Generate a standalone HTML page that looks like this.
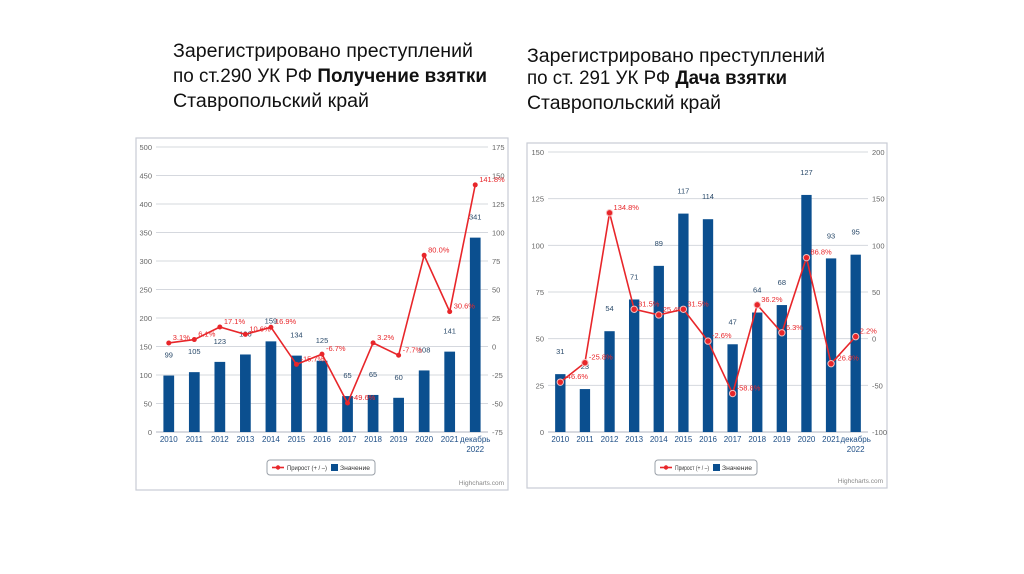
<!DOCTYPE html>
<html><head><meta charset="utf-8"><style>
html,body{margin:0;padding:0;background:#fff;width:1024px;height:574px;overflow:hidden}
svg{display:block;font-family:"Liberation Sans","DejaVu Sans",sans-serif}
</style></head><body>
<svg id="s" width="1024" height="574" xmlns="http://www.w3.org/2000/svg">
<g font-size="19" fill="#111">
<text x="173" y="57" textLength="300" lengthAdjust="spacingAndGlyphs">Зарегистрировано преступлений</text>
<text x="173" y="82" textLength="314" lengthAdjust="spacingAndGlyphs">по ст.290 УК РФ <tspan font-weight="bold">Получение взятки</tspan></text>
<text x="173" y="107" textLength="196" lengthAdjust="spacingAndGlyphs">Ставропольский край</text>
</g>
<g font-size="19" fill="#111">
<text x="527" y="62" textLength="298" lengthAdjust="spacingAndGlyphs">Зарегистрировано преступлений</text>
<text x="527" y="84" textLength="260" lengthAdjust="spacingAndGlyphs">по ст. 291 УК РФ <tspan font-weight="bold">Дача взятки</tspan></text>
<text x="527" y="109" textLength="194" lengthAdjust="spacingAndGlyphs">Ставропольский край</text>
</g>
</svg>
<script>
const categories = ["2010","2011","2012","2013","2014","2015","2016","2017","2018","2019","2020","2021","декабрь"];
const leftValues = [99,105,123,136,159,134,125,63,65,60,108,141,341];
const leftValueLabels = ["99","105","123","136","159","134","125","65","65","60","108","141","341"];
const leftGrowth = [3.1,6.1,17.1,10.6,16.9,-15.7,-6.7,-49.6,3.2,-7.7,80.0,30.6,141.8];
const leftLeftTicks = [0,50,100,150,200,250,300,350,400,450,500];
const leftRightTicks = [-75,-50,-25,0,25,50,75,100,125,150,175];
const rightValues = [31,23,54,71,89,117,114,47,64,68,127,93,95];
const rightGrowth = [-46.6,-25.8,134.8,31.5,25.4,31.5,-2.6,-58.8,36.2,6.3,86.8,-26.8,2.2];
const rightLeftTicks = [0,25,50,75,100,125,150];
const rightRightTicks = [-100,-50,0,50,100,150,200];

const NS="http://www.w3.org/2000/svg";
const svg=document.getElementById('s');
function mk(tag,attrs,parent,txt){const e=document.createElementNS(NS,tag);for(const k in attrs)e.setAttribute(k,attrs[k]);if(txt!==undefined)e.textContent=txt;parent.appendChild(e);return e;}

function chart(cfg){
  const g=mk('g',{},svg);
  
  
  const fr=mk('rect',{x:cfg.fx,y:cfg.fy,width:cfg.fw,height:cfg.fh,fill:'#fff',stroke:'#c8ccd4','stroke-width':1.2},g);
  
  
  const L=cfg.x0,R=cfg.x1,T=cfg.yTop,B=cfg.yBot;
  const yL=v=>B-(v-cfg.lMin)/(cfg.lMax-cfg.lMin)*(B-T);
  const yR=v=>B-(v-cfg.rMin)/(cfg.rMax-cfg.rMin)*(B-T);
  const bw=(R-L)/categories.length;
  const xC=i=>L+bw*(i+0.5);
  cfg.lTicks.forEach(t=>{
    const y=yL(t);
    const gl=mk('line',{x1:L,x2:R,y1:y,y2:y,stroke:'#d5d8de','stroke-width':1},g);
    
    
    const tx=mk('text',{x:L-4,y:y+3,'font-size':7.5,fill:'#666','text-anchor':'end'},g,String(t));
    
    
  });
  cfg.rTicks.forEach(t=>{
    const tx=mk('text',{x:R+4,y:yR(t)+3,'font-size':7.5,fill:'#666'},g,String(t));
    
    
  });
  mk('line',{x1:L,x2:R,y1:B,y2:B,stroke:'#b0b6c0'},g);
  cfg.values.forEach((v,i)=>{
    const w=bw*0.42;
    const b=mk('rect',{x:xC(i)-w/2,y:yL(v),width:w,height:B-yL(v),fill:'#0b4f8f'},g);
    
    
    const lb=mk('text',{x:xC(i),y:yL(v)-cfg.labOff,'font-size':7.5,fill:'#2a4a6a','text-anchor':'middle'},g,cfg.valLabels?cfg.valLabels[i]:String(v));
    
    
    const cl=mk('text',{x:xC(i),y:B+10,'font-size':8,fill:'#1f4f86','text-anchor':'middle'},g,categories[i]);
    
    
  });
  const c2=mk('text',{x:xC(12),y:B+20,'font-size':8,fill:'#1f4f86','text-anchor':'middle'},g,'2022');
  
  
  const pts=cfg.growth.map((v,i)=>xC(i)+','+yR(v)).join(' ');
  const pl=mk('polyline',{points:pts,fill:'none',stroke:'#e8262a','stroke-width':1.6},g);
  
  
  cfg.growth.forEach((v,i)=>{
    const p=mk('circle',{cx:xC(i),cy:yR(v),r:cfg.ring?3.2:2.5,fill:'#e8262a',stroke:cfg.ring?'#f5c0c0':'none','stroke-width':1},g);
    
    
    const t=mk('text',{x:xC(i)+4,y:yR(v)-3,'font-size':7.5,fill:'#e8262a'},g,v.toFixed(1)+'%');
    
    
  });
  const lg=mk('g',{},g);
  
  
  mk('rect',{x:cfg.lgx,y:cfg.lgy,width:cfg.lgw,height:15,rx:3,fill:'#fff',stroke:'#9aa0a8'},lg);
  mk('line',{x1:cfg.lgx+5,x2:cfg.lgx+17,y1:cfg.lgy+7.5,y2:cfg.lgy+7.5,stroke:'#e8262a','stroke-width':1.6},lg);
  mk('circle',{cx:cfg.lgx+11,cy:cfg.lgy+7.5,r:2.2,fill:'#e8262a'},lg);
  const t1=mk('text',{x:cfg.lgx+20,y:cfg.lgy+10,'font-size':6.3,fill:'#333',textLength:cfg.lgw-68,lengthAdjust:'spacingAndGlyphs'},lg,'Прирост (+ / –)');
  
  
  mk('rect',{x:cfg.lgx+cfg.lgw-44,y:cfg.lgy+4,width:7,height:7,fill:'#0b4f8f'},lg);
  const t2=mk('text',{x:cfg.lgx+cfg.lgw-35,y:cfg.lgy+10,'font-size':6.3,fill:'#333',textLength:30,lengthAdjust:'spacingAndGlyphs'},lg,'Значение');
  
  
  const hc=mk('text',{x:cfg.fx+cfg.fw-4,y:cfg.fy+cfg.fh-5,'font-size':6.5,fill:'#888','text-anchor':'end'},g,'Highcharts.com');
  
  
}
chart({name:'left-chart',fx:136,fy:138,fw:372,fh:352,x0:156,x1:488,yTop:147,yBot:432,lMin:0,lMax:500,rMin:-75,rMax:175,
  lTicks:leftLeftTicks,rTicks:leftRightTicks,values:leftValues,valLabels:leftValueLabels,growth:leftGrowth,labOff:18,ring:false,lgx:267,lgy:460,lgw:108});
chart({name:'right-chart',fx:527,fy:143,fw:360,fh:345,x0:548,x1:868,yTop:152,yBot:432,lMin:0,lMax:150,rMin:-100,rMax:200,
  lTicks:rightLeftTicks,rTicks:rightRightTicks,values:rightValues,growth:rightGrowth,labOff:20,ring:true,lgx:655,lgy:460,lgw:102});
</script>
</body></html>
